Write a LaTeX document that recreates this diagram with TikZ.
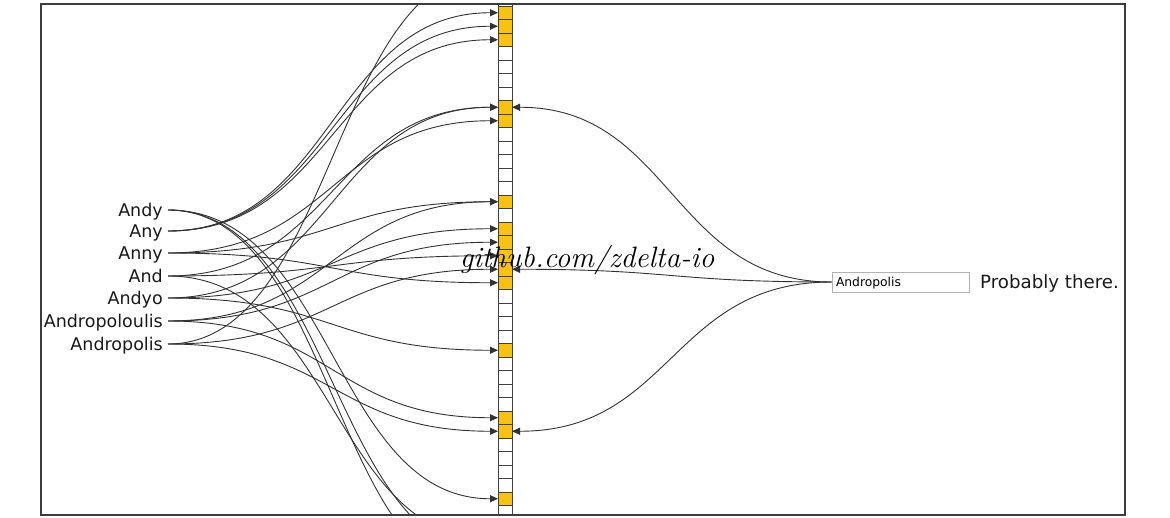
\documentclass[tikz,border=0pt]{standalone}
\usepackage{fontspec}
\setsansfont{DejaVu Sans}
\usetikzlibrary{arrows.meta}
\definecolor{bit}{RGB}{248,194,20}
\definecolor{ln}{RGB}{50,50,50}
\definecolor{frm}{RGB}{60,60,60}
\begin{document}
\begin{tikzpicture}[x=1pt,y=-1pt,
  word/.style={font=\sffamily\fontsize{17.5}{20}\selectfont, inner xsep=5pt, inner ysep=0pt, text height=12.5pt, text depth=0pt, anchor=east, text=black!90},
  cell/.style={draw=black!75, line width=0.8pt, minimum width=14pt, minimum height=13.5pt, inner sep=0pt, outer sep=0pt, fill=white},
  bitset/.style={fill=bit},
  lnk/.style={draw=ln, line width=0.9pt, -{Triangle[length=8pt,width=7pt]}, out=0, in=180, out distance=165pt, in distance=165pt},
  rlnk/.style={lnk, out=180, in=0, out distance=160pt, in distance=160pt},
]
\useasboundingbox (0,0) rectangle (1170,518);
\begin{scope}
\clip (41,4) rectangle (1125,515);
% bit array
\foreach \i in {1,...,4} \node[cell] (n\i) at (505,{12.75-13.5*\i}) {};
\foreach \i in {0,...,44} \node[cell] (c\i) at (505,{12.75+13.5*\i}) {};
\foreach \i in {0,1,2,7,8,14,16,17,18,19,20,25,30,31,36} \node[cell,bitset] (c\i) at (505,{12.75+13.5*\i}) {};
% words
\node[word] (andy)  at (168,210) {Andy};
\node[word] (any)   at (168,231) {Any};
\node[word] (anny)  at (168,253) {Anny};
\node[word] (and)   at (168,276) {And};
\node[word] (andyo) at (168,298) {Andyo};
\node[word] (andp)  at (168,321) {Andropoloulis};
\node[word] (andr)  at (168,344) {Andropolis};
% hash links
\draw[lnk] (andy.east) to (c36.west);
\draw[lnk] (andy.east) to (c40.west);
\draw[lnk] (andy.east) to (c42.west);
\draw[lnk] (any.east) to (c0.west);
\draw[lnk] (any.east) to (c1.west);
\draw[lnk] (any.east) to (c2.west);
\draw[lnk] (anny.east) to (c8.west);
\draw[lnk] (anny.east) to (c14.west);
\draw[lnk] (anny.east) to (c20.west);
\draw[lnk] (and.east) to (c7.west);
\draw[lnk] (and.east) to (c18.west);
\draw[lnk] (and.east) to (c39.west);
\draw[lnk] (andyo.east) to (c7.west);
\draw[lnk] (andyo.east) to (c16.west);
\draw[lnk] (andyo.east) to (c25.west);
\draw[lnk] (andp.east) to (c14.west);
\draw[lnk] (andp.east) to (c17.west);
\draw[lnk] (andp.east) to (c30.west);
\draw[lnk] (andr.east) to (n3.west);
\draw[lnk] (andr.east) to (c19.west);
\draw[lnk] (andr.east) to (c31.west);
% query
\node[draw=black!30, line width=0.8pt, fill=white, minimum height=20pt, inner xsep=4pt, inner ysep=0pt, text height=9pt, text depth=0pt, text width=129pt, align=left, font=\sffamily\fontsize{12.3}{14}\selectfont] (inp) at (900.5,282) {Andropolis};
\node[word, font=\sffamily\fontsize{18.2}{21}\selectfont, anchor=west, inner xsep=0pt] (prob) at (980,282) {Probably there.};
\draw[rlnk] (inp.west) to (c7.east);
\draw[rlnk] (inp.west) to (c19.east);
\draw[rlnk] (inp.west) to (c31.east);
% watermark
\node[font=\rmfamily\itshape\fontsize{29.5}{33}\selectfont, anchor=base, inner sep=0pt] (wm) at (587,268) {github.com/zdelta-io};
\end{scope}
\draw[frm, line width=1.6pt] (41,4) rectangle (1125,515);
\end{tikzpicture}
\end{document}
